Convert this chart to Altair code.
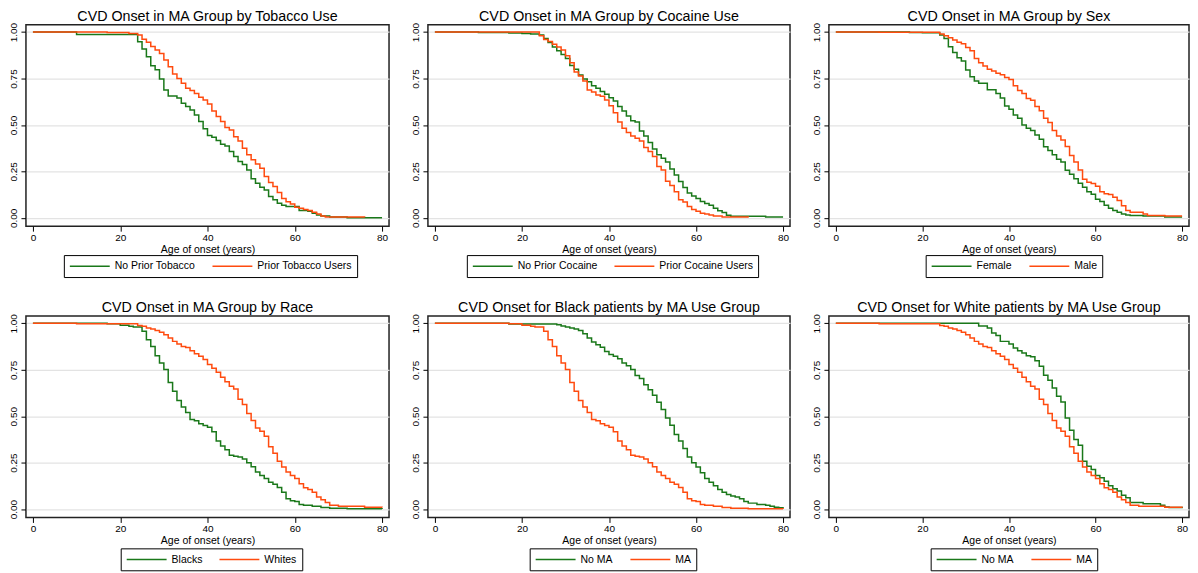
import altair as alt
import pandas as pd

GREEN = "#1a781a"
ORANGE = "#ff4b0f"
FONT = "Liberation Sans"

# ---------- Panel 1: Tobacco ----------
tob_names = ["No Prior Tobacco", "Prior Tobacco Users"]
tob_no_age = [0, 10, 24, 25, 26, 27, 28, 29, 30, 31, 33, 34, 35, 36, 37, 38, 39, 40, 41, 42, 43, 44, 45, 46, 47, 48, 49, 50,
              51, 52, 53, 54, 55, 56, 57, 58, 61, 63, 64, 65, 66, 68, 72, 80]
tob_no_s = [1, 0.987, 0.948, 0.909, 0.867, 0.819, 0.797, 0.747, 0.688, 0.656, 0.645, 0.617, 0.600, 0.580, 0.554, 0.518,
            0.480, 0.443, 0.434, 0.416, 0.396, 0.387, 0.357, 0.330, 0.303, 0.287, 0.258, 0.210, 0.186, 0.165, 0.150,
            0.115, 0.097, 0.079, 0.068, 0.061, 0.040, 0.035, 0.025, 0.015, 0.010, 0.005, 0.0, 0.0]
tob_yes_age = [0, 17, 22, 24, 25, 26, 27, 28, 29, 30, 31, 32, 33, 34, 35, 36, 37, 38, 39, 40, 41, 42, 43, 44, 45, 46, 47,
               48, 49, 50, 51, 52, 53, 54, 55, 56, 57, 58, 59, 60, 61, 62, 63, 64, 65, 66, 67, 76]
tob_yes_s = [1, 0.998, 0.993, 0.985, 0.962, 0.945, 0.922, 0.903, 0.885, 0.850, 0.814, 0.774, 0.750, 0.724, 0.697, 0.685,
             0.670, 0.649, 0.634, 0.613, 0.575, 0.545, 0.518, 0.486, 0.473, 0.437, 0.414, 0.375, 0.339, 0.312, 0.290,
             0.267, 0.222, 0.190, 0.168, 0.136, 0.104, 0.086, 0.075, 0.057, 0.052, 0.045, 0.040, 0.030, 0.020, 0.010,
             0.005, 0.003]

# ---------- Panel 2: Cocaine ----------
coc_names = ["No Prior Cocaine", "Prior Cocaine Users"]
coc_no_age = [0, 10, 17, 20, 22, 24, 25, 26, 27, 28, 29, 30, 31, 32, 33, 34, 35, 36, 37, 38, 39, 40, 41, 42, 43, 44, 45,
              46, 47, 48, 49, 50, 51, 52, 53, 54, 55, 56, 57, 58, 59, 60, 61, 62, 63, 64, 65, 66, 67, 68, 76, 80]
coc_no_s = [1, 0.998, 0.995, 0.993, 0.990, 0.985, 0.966, 0.944, 0.920, 0.900, 0.880, 0.858, 0.820, 0.800, 0.769, 0.747,
            0.733, 0.711, 0.697, 0.680, 0.665, 0.647, 0.629, 0.600, 0.575, 0.548, 0.523, 0.516, 0.468, 0.441, 0.405,
            0.371, 0.339, 0.321, 0.300, 0.263, 0.231, 0.195, 0.163, 0.133, 0.118, 0.104, 0.088, 0.077, 0.068, 0.052,
            0.038, 0.029, 0.014, 0.008, 0.005, 0.005]
coc_yes_age = [0, 24, 25, 26, 27, 28, 29, 30, 31, 32, 33, 34, 35, 36, 37, 38, 39, 40, 41, 42, 43, 44, 45, 46, 47, 48, 49,
               50, 51, 52, 53, 54, 55, 56, 57, 58, 59, 60, 61, 62, 63, 64, 66, 72]
coc_yes_s = [1, 0.98, 0.96, 0.95, 0.934, 0.92, 0.903, 0.873, 0.835, 0.785, 0.763, 0.737, 0.688, 0.677, 0.661, 0.655,
             0.634, 0.604, 0.566, 0.516, 0.482, 0.459, 0.441, 0.428, 0.414, 0.378, 0.357, 0.330, 0.276, 0.258, 0.197,
             0.174, 0.140, 0.097, 0.085, 0.061, 0.045, 0.035, 0.025, 0.020, 0.015, 0.010, 0.005, 0.002]

# ---------- Panel 3: Sex ----------
sex_names = ["Female", "Male"]
sex_f_age = [0, 17, 20, 24, 25, 26, 27, 28, 29, 30, 31, 32, 33, 35, 37, 38, 39, 40, 41, 42, 43, 44, 45, 46, 47, 48, 49,
             50, 51, 52, 53, 54, 55, 56, 57, 58, 59, 60, 61, 62, 63, 64, 65, 66, 67, 68, 71, 76, 80]
sex_f_s = [1, 0.998, 0.997, 0.985, 0.966, 0.921, 0.890, 0.862, 0.844, 0.796, 0.760, 0.737, 0.724, 0.690, 0.670, 0.645,
           0.602, 0.584, 0.554, 0.536, 0.500, 0.482, 0.470, 0.446, 0.423, 0.382, 0.362, 0.339, 0.315, 0.300, 0.256,
           0.235, 0.210, 0.186, 0.165, 0.140, 0.127, 0.100, 0.088, 0.068, 0.052, 0.040, 0.030, 0.020, 0.015, 0.012,
           0.010, 0.005, 0.005]
sex_m_age = [0, 10, 24, 25, 26, 27, 28, 29, 30, 31, 32, 33, 34, 35, 36, 37, 38, 39, 40, 41, 42, 43, 44, 45, 46, 47, 48,
             49, 50, 51, 52, 53, 54, 55, 56, 57, 58, 59, 60, 61, 62, 63, 64, 65, 66, 67, 68, 71, 72, 76, 80]
sex_m_s = [1, 0.999, 0.99, 0.98, 0.97, 0.958, 0.945, 0.937, 0.917, 0.90, 0.858, 0.835, 0.817, 0.80, 0.79, 0.778, 0.77,
           0.756, 0.745, 0.711, 0.685, 0.67, 0.643, 0.633, 0.60, 0.577, 0.536, 0.513, 0.47, 0.441, 0.419, 0.384,
           0.335, 0.30, 0.258, 0.208, 0.192, 0.185, 0.17, 0.14, 0.13, 0.125, 0.111, 0.093, 0.065, 0.04, 0.03, 0.02,
           0.012, 0.01, 0.01]

# ---------- MA group by race (shared by panels 4-6) ----------
black_ma_age = [0, 17, 20, 22, 23, 25, 26, 27, 28, 29, 30, 31, 32, 33, 34, 35, 36, 37, 38, 39, 40, 41, 42, 43, 44, 45,
                46, 47, 48, 49, 50, 51, 52, 53, 54, 55, 56, 57, 58, 59, 60, 61, 62, 64, 66, 68, 72, 80]
black_ma_s = [1, 0.998, 0.99, 0.985, 0.98, 0.957, 0.912, 0.876, 0.826, 0.787, 0.751, 0.681, 0.634, 0.584, 0.55, 0.52,
              0.482, 0.475, 0.459, 0.45, 0.441, 0.416, 0.366, 0.34, 0.319, 0.29, 0.285, 0.28, 0.27, 0.25, 0.228, 0.2,
              0.181, 0.165, 0.145, 0.133, 0.116, 0.091, 0.056, 0.045, 0.041, 0.025, 0.02, 0.015, 0.008, 0.005, 0.002,
              0.0]
white_ma_age = [0, 10, 24, 25, 26, 27, 28, 29, 30, 31, 32, 33, 34, 35, 36, 37, 38, 39, 40, 41, 42, 43, 44, 45, 46, 47,
                48, 49, 50, 51, 52, 53, 54, 55, 56, 57, 58, 59, 60, 61, 62, 63, 64, 65, 66, 67, 68, 70, 76, 80]
white_ma_s = [1, 0.998, 0.989, 0.985, 0.975, 0.97, 0.962, 0.952, 0.939, 0.921, 0.903, 0.889, 0.876, 0.87, 0.853, 0.837,
              0.823, 0.805, 0.778, 0.758, 0.737, 0.71, 0.685, 0.661, 0.647, 0.591, 0.563, 0.514, 0.477, 0.437, 0.419,
              0.392, 0.335, 0.3, 0.258, 0.226, 0.2, 0.181, 0.165, 0.136, 0.115, 0.106, 0.09, 0.065, 0.05, 0.036, 0.02,
              0.015, 0.01, 0.008]
race_names = ["Blacks", "Whites"]

# ---------- Panel 5: Black patients, No MA ----------
ma_names = ["No MA", "MA"]
black_noma_age = [0, 17, 28, 29, 30, 31, 32, 33, 34, 35, 36, 37, 38, 39, 40, 41, 42, 43, 44, 45, 46, 47, 48, 49, 50, 51,
                  52, 53, 54, 55, 56, 57, 58, 59, 60, 61, 62, 63, 64, 65, 66, 67, 68, 69, 70, 71, 72, 74, 76, 77, 78,
                  79, 80]
black_noma_s = [1, 0.997, 0.993, 0.986, 0.98, 0.975, 0.97, 0.962, 0.944, 0.921, 0.9, 0.885, 0.871, 0.849, 0.832, 0.823,
                0.81, 0.787, 0.772, 0.751, 0.719, 0.703, 0.67, 0.643, 0.613, 0.575, 0.536, 0.491, 0.452, 0.401, 0.366,
                0.326, 0.28, 0.249, 0.226, 0.195, 0.165, 0.145, 0.125, 0.106, 0.091, 0.079, 0.07, 0.065, 0.055, 0.041,
                0.032, 0.025, 0.02, 0.015, 0.01, 0.007, 0.005]

# ---------- Panel 6: White patients, No MA ----------
white_noma_age = [0, 33, 35, 36, 37, 38, 40, 41, 42, 43, 44, 45, 46, 47, 48, 49, 50, 51, 52, 53, 54, 55, 56, 57, 58, 59,
                  60, 61, 62, 63, 64, 65, 66, 67, 68, 71, 75, 76, 77, 80]
white_noma_s = [1, 0.986, 0.975, 0.948, 0.934, 0.903, 0.889, 0.867, 0.853, 0.84, 0.826, 0.82, 0.799, 0.769, 0.72, 0.694,
                0.652, 0.608, 0.577, 0.491, 0.425, 0.375, 0.344, 0.258, 0.231, 0.213, 0.181, 0.168, 0.15, 0.125, 0.109,
                0.097, 0.075, 0.061, 0.036, 0.029, 0.02, 0.011, 0.008, 0.005]

titles = [
    "CVD Onset in MA Group by Tobacco Use",
    "CVD Onset in MA Group by Cocaine Use",
    "CVD Onset in MA Group by Sex",
    "CVD Onset in MA Group by Race",
    "CVD Onset for Black patients by MA Use Group",
    "CVD Onset for White patients by MA Use Group",
]


def make_df(names, a1, s1, a2, s2):
    assert len(a1) == len(s1), (names, len(a1), len(s1))
    assert len(a2) == len(s2), (names, len(a2), len(s2))
    rows = [{"age": a, "s": s, "group": names[0]} for a, s in zip(a1, s1)]
    rows += [{"age": a, "s": s, "group": names[1]} for a, s in zip(a2, s2)]
    return pd.DataFrame(rows)


def panel(title, names, a1, s1, a2, s2, lx, ly, width):
    df = make_df(names, a1, s1, a2, s2)
    color = alt.Color(
        "group:N",
        scale=alt.Scale(domain=names, range=[GREEN, ORANGE]),
        legend=alt.Legend(
            title=None, orient="none", legendX=lx, legendY=ly, direction="horizontal",
            symbolType="M-1,0H7", symbolSize=100, symbolStrokeWidth=1.5, labelOffset=34,
            labelFontSize=10.5, labelFont=FONT, labelColor="black", columnPadding=14,
            strokeColor="black", padding=5, fillColor="white", cornerRadius=0,
        ),
    )
    x = alt.X("age:Q", scale=alt.Scale(domain=[-1.6, 81.6], nice=False, zero=False),
              axis=alt.Axis(values=[0, 20, 40, 60, 80], title="Age of onset (years)", grid=False))
    y = alt.Y("s:Q", scale=alt.Scale(domain=[-0.045, 1.04], nice=False, zero=False),
              axis=alt.Axis(values=[0, 0.25, 0.5, 0.75, 1], format=".2f", labelAngle=270, title=None, grid=True,
                            labelBaseline="bottom", labelAlign="center"))
    base = alt.Chart(df)
    l1 = base.transform_filter(alt.datum.group == names[0]).mark_line(
        interpolate="step-after", strokeWidth=1.5).encode(x=x, y=y, color=color)
    l2 = base.transform_filter(alt.datum.group == names[1]).mark_line(
        interpolate="step-after", strokeWidth=1.5).encode(x=x, y=y, color=color)
    return alt.layer(l1, l2).properties(
        width=width, height=202,
        title=alt.Title(title, fontSize=14.3, font=FONT, fontWeight="normal", offset=-2, color="black"),
    )


p1 = panel(titles[0], tob_names, tob_no_age, tob_no_s, tob_yes_age, tob_yes_s, 38, 231, 364)
p2 = panel(titles[1], coc_names, coc_no_age, coc_no_s, coc_yes_age, coc_yes_s, 39, 231, 363)
p3 = panel(titles[2], sex_names, sex_f_age, sex_f_s, sex_m_age, sex_m_s, 97, 231, 361)
p4 = panel(titles[3], race_names, black_ma_age, black_ma_s, white_ma_age, white_ma_s, 95, 233, 364)
p5 = panel(titles[4], ma_names, black_noma_age, black_noma_s, black_ma_age, black_ma_s, 102, 233, 363)
p6 = panel(titles[5], ma_names, white_noma_age, white_noma_s, white_ma_age, white_ma_s, 102, 233, 361)

row1 = alt.hconcat(p1, p2, p3, spacing=20).resolve_scale(color="independent")
row2 = alt.hconcat(p4, p5, p6, spacing=20).resolve_scale(color="independent")

chart = alt.vconcat(row1, row2, spacing=21).resolve_scale(color="independent").properties(
    padding={"left": 0, "top": 0, "right": 0, "bottom": 0},
    background="white",
).configure_view(
    stroke="#222222", strokeWidth=1.5
).configure_axis(
    domain=False, tickColor="black", tickSize=5, tickWidth=1, labelFont=FONT, labelFontSize=10,
    labelColor="black", titleFont=FONT, titleFontSize=10.5, titleFontWeight="normal", titleColor="black",
    gridColor="#e3e3e3", gridWidth=1.2, labelPadding=2,
).configure_axisX(titlePadding=2, labelPadding=1)

chart.save("out.html", embed_options={"renderer": "svg", "actions": False})
